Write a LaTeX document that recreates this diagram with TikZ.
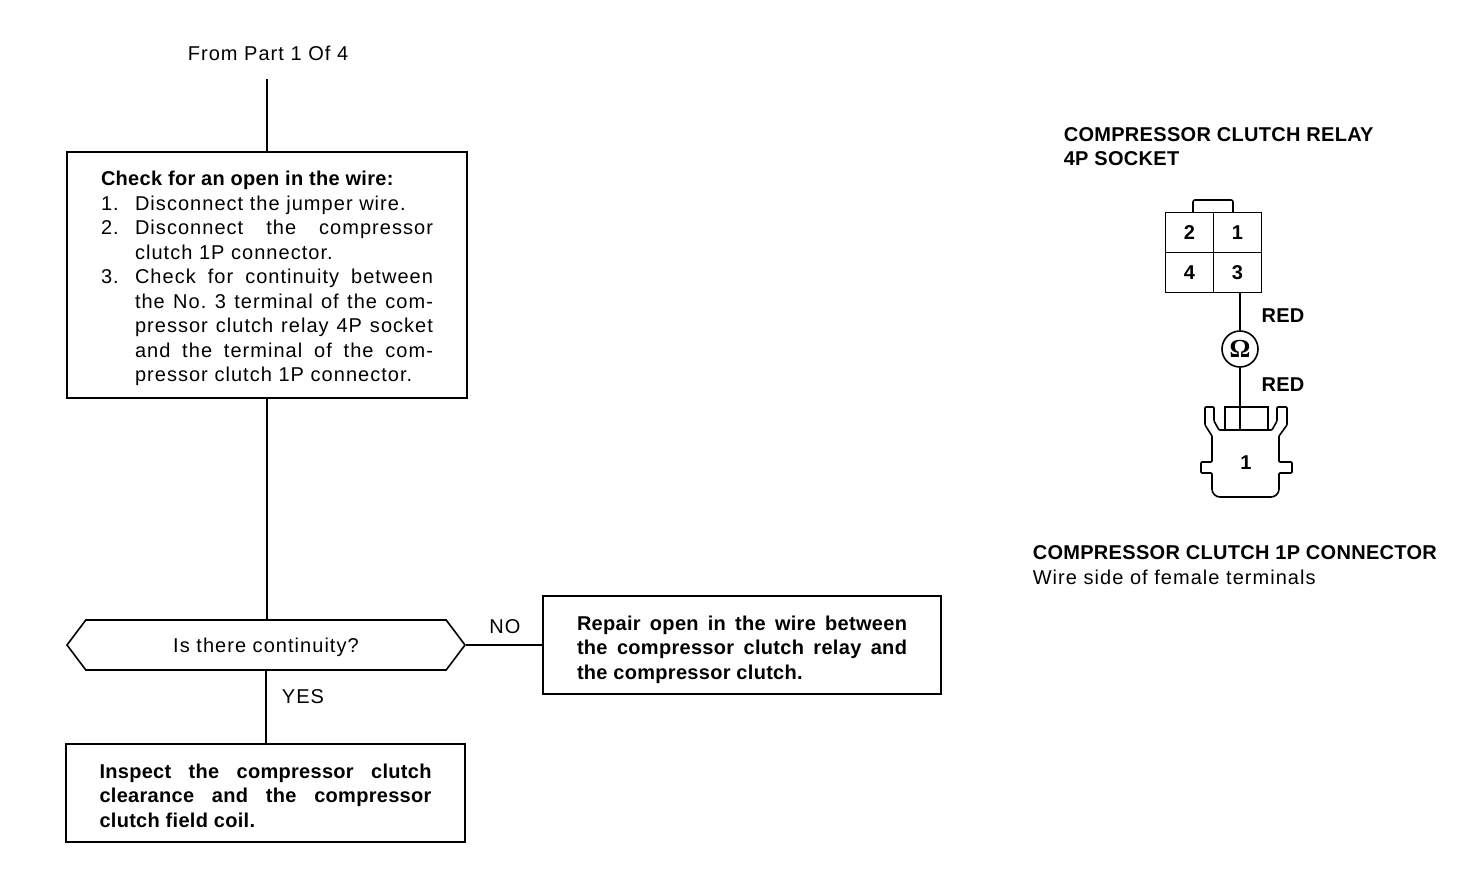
\documentclass[tikz,border=0pt]{standalone}
\usepackage{fontspec}
\setmainfont[LetterSpace=5.2,BoldFeatures={LetterSpace=1.5}]{Liberation Sans}
\newfontfamily\ohmfont{Liberation Serif}
\usepackage{tikz}
\usetikzlibrary{shapes.symbols}
\frenchspacing
\newcommand{\numline}[2]{\makebox[34pt][l]{#1}#2}
\newcommand{\fitline}[2]{\makebox[#1][s]{#2}}
\begin{document}
\begin{tikzpicture}[x=1pt, y=-1pt, line width=1.6pt, every node/.style={font=\fontsize{20}{24.5}\selectfont},
	boxstep/.style={draw, align=left, inner sep=0pt},
	bold/.style={font=\fontsize{20}{24.5}\selectfont\bfseries},
	cell/.style={draw, bold, minimum width=48pt, minimum height=40pt, inner sep=0pt}]
	\useasboundingbox (0,0) rectangle (1472,896);
	\node (frompart) at (268,53) [minimum height=50pt, inner sep=0pt] {From Part 1 Of 4};
	\node (check) at (267,275) [boxstep, minimum width=400pt, minimum height=246pt] {\rule{0pt}{22pt}\textbf{Check for an open in the wire:}\\
		\numline{1.}{Disconnect the jumper wire.}\\
		\numline{2.}{\fitline{298pt}{Disconnect the compressor}}\\
		\numline{}{clutch 1P connector.}\\
		\numline{3.}{\fitline{298pt}{Check for continuity between}}\\
		\numline{}{\fitline{298pt}{the No. 3 terminal of the com-}}\\
		\numline{}{\fitline{298pt}{pressor clutch relay 4P socket}}\\
		\numline{}{\fitline{298pt}{and the terminal of the com-}}\\
		\numline{}{pressor clutch 1P connector.}};
	\node (cont) at (266,645) [draw, shape=signal, signal to=west and east, signal pointer angle=106, minimum width=398pt, minimum height=50pt, inner sep=0pt] {\rule{0pt}{20pt}Is there continuity?};
	\node (repair) at (742,645) [boxstep, bold, minimum width=398pt, minimum height=98pt] {\rule{0pt}{24pt}\fitline{330pt}{Repair open in the wire between}\\
		\fitline{330pt}{the compressor clutch relay and}\\
		the compressor clutch.};
	\node (inspect) at (265.5,793) [boxstep, bold, minimum width=399pt, minimum height=98pt] {\rule{0pt}{20pt}\fitline{332pt}{Inspect the compressor clutch}\\
		\fitline{332pt}{clearance and the compressor}\\
		clutch field coil.};
	\node (no) at (505,627) [inner sep=0pt] {NO};
	\node (yes) at (303,697) [inner sep=0pt] {YES};

	\draw (frompart.south -| check) -- (check);
	\draw (check.south) -- (check.south |- cont.north);
	\draw (cont.south) -- (cont.south |- inspect.north);
	\draw (cont) -- (repair);

	\node (relay) at (1063,146.5) [bold, align=left, anchor=west, inner sep=0pt] {COMPRESSOR CLUTCH RELAY\\4P SOCKET};
	\node (cell2) at (1189.5,232.5) [cell] {2};
	\node (cell1) at (1237.5,232.5) [cell] {1};
	\node (cell4) at (1189.5,272.5) [cell] {4};
	\node (cell3) at (1237.5,272.5) [cell] {3};
	\draw (1193,213) -- (1193,203) [rounded corners=2pt] -- (1193,200) -- (1233,200) -- (1233,213);
	\node (ohm) at (1240,349) [draw, circle, minimum size=36pt, inner sep=0pt] {\fontsize{26}{26}\selectfont\ohmfont\bfseries Ω};
	\node (red1) at (1283,316) [bold, inner sep=0pt] {RED};
	\node (red2) at (1283,385) [bold, inner sep=0pt] {RED};
	\node (plug) at (1246.5,418.5) [draw, minimum width=43pt, minimum height=23pt, inner sep=0pt] {};
	\coordinate (plugbase) at (1240,430);
	\draw (cell3.south -| ohm) -- (ohm);
	\draw (ohm) -- (plugbase);
	\draw[rounded corners=1pt] (1212,436) -- (1205,425) -- (1205,407) -- (1214,407) -- (1214,421) -- (1219,430) -- (1225,430);
	\draw[rounded corners=1pt] (1279,436) -- (1287,425) -- (1287,407) -- (1277,407) -- (1277,421) -- (1272,430) -- (1268,430);
	\draw[rounded corners=1pt] (1212,436) -- (1212,462) -- (1201,462) -- (1201,473) -- (1212,473) [rounded corners=8pt] -- (1212,497) -- (1279,497) [rounded corners=1pt] -- (1279,473) -- (1292,473) -- (1292,462) -- (1279,462) -- (1279,436);
	\node (plugno) at (1246,463) [bold, inner sep=0pt] {1};
	\node (clutch) at (1032,565) [align=left, anchor=west, inner sep=0pt] {\textbf{COMPRESSOR CLUTCH 1P CONNECTOR}\\Wire side of female terminals};
\end{tikzpicture}
\end{document}
